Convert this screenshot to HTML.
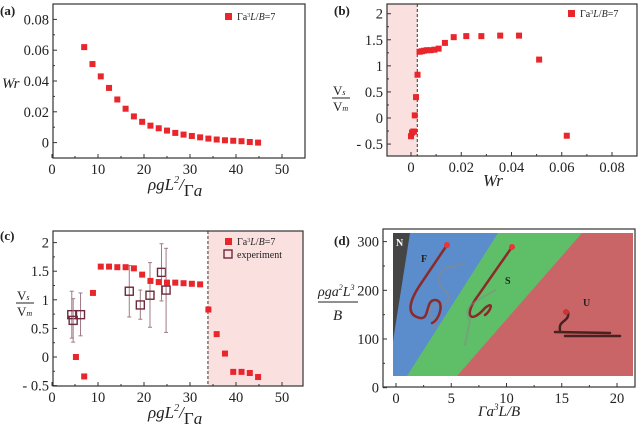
<!DOCTYPE html>
<html><head><meta charset="utf-8"><style>
html,body{margin:0;padding:0;background:#fff}
svg{display:block;font-family:"Liberation Serif",serif}
</style></head><body>
<svg id="fig" width="640" height="427" viewBox="0 0 640 427"></svg>
<script>
// ---- Data ----
const aX=[7,8.8,10.6,12.4,14.2,16,17.8,19.6,21.4,23.2,25,26.8,28.6,30.4,32.2,34,35.8,37.6,39.4,41.2,43,44.8];
const aWr=[.062,.051,.043,.0355,.028,.022,.017,.0135,.011,.0093,.0078,.0063,.0052,.0043,.0034,.0026,.002,.0015,.0012,.0009,.0004,0];
const bWr=[0,.0004,.0009,.0012,.0015,.002,.0026,.0034,.0043,.0052,.0063,.0078,.0093,.011,.0135,.017,.022,.028,.0355,.043,.051,.062];
const bV=[-0.35,-0.28,-0.26,-0.26,0.05,0.4,0.83,1.27,1.28,1.29,1.3,1.3,1.31,1.33,1.44,1.55,1.57,1.57,1.58,1.58,1.12,-0.34];
const cX=[5.2,7,8.9,10.6,12.4,14.2,16,17.8,19.6,21.4,23.2,25,26.8,28.6,30.4,32.2,34,35.8,37.6,39.4,41.2,43,44.8];
const cV=[0,-0.34,1.12,1.58,1.58,1.57,1.57,1.55,1.44,1.33,1.31,1.3,1.3,1.29,1.28,1.27,0.83,0.4,0.06,-0.26,-0.26,-0.28,-0.35];
const eX=[4.3,4.6,6.2,16.8,19.2,21.3,23.8,24.8];
const eV=[0.74,0.64,0.74,1.15,0.91,1.08,1.48,1.17];
const eLo=[0.33,0.26,0.37,0.7,0.66,0.52,0.98,0.43];
const eHi=[1.15,1.02,1.12,1.6,1.17,1.65,1.98,1.9];
const aXT=[0,10,20,30,40,50], aYT=[0,0.02,0.04,0.06,0.08];
const bXT=[0,0.02,0.04,0.06,0.08], bYT=[-0.5,0,0.5,1,1.5,2];
const cYT=[-0.5,0,0.5,1,1.5,2];
const dXT=[0,5,10,15,20], dYT=[0,100,200,300];

const NS="http://www.w3.org/2000/svg", svg=document.getElementById('fig');
function el(t,at,p){const e=document.createElementNS(NS,t);for(const k in at)e.setAttribute(k,at[k]);(p||svg).appendChild(e);return e;}
function txt(s,x,y,at,p){const e=el('text',Object.assign({x:x,y:y},at||{}),p);e.textContent=s;return e;}
function lin(d0,d1,r0,r1){return v=>r0+(v-d0)/(d1-d0)*(r1-r0);}
function fmt(v){return (Math.round(v*1000)/1000).toString();}

function axes(g,L,T,R,B,X,Y,xt,yt,xm,ym){
  el('rect',{x:L,y:T,width:R-L,height:B-T,fill:'none',stroke:'#333','stroke-width':1.2},g);
  xt.forEach(v=>{const x=X(v);el('line',{x1:x,y1:B,x2:x,y2:B-4,stroke:'#333'},g);
    const t=txt(fmt(v),x,B+16,{'font-size':14.5,'text-anchor':'middle',fill:'#222'},g);});
  xm.forEach(v=>{const x=X(v);el('line',{x1:x,y1:B,x2:x,y2:B-2,stroke:'#333'},g);});
  yt.forEach(v=>{const y=Y(v);el('line',{x1:L,y1:y,x2:L+4,y2:y,stroke:'#333'},g);
    const t=txt(fmt(v).replace('-','- '),L-4,y+5,{'font-size':14.5,'text-anchor':'end',fill:'#222'},g);});
  ym.forEach(v=>{const y=Y(v);el('line',{x1:L,y1:y,x2:L+2,y2:y,stroke:'#333'},g);});
}
function sq(g,x,y,name){const r=el('rect',{x:x-3,y:y-3,width:6,height:6,fill:'#e8262b'},g);}
function legendRed(g,x,y){const r=el('rect',{x:x,y:y-6,width:7,height:7,fill:'#e8262b'},g);
  const t=txt('',x+12,y+1,{'font-size':10,fill:'#222'},g);t.innerHTML='Γa<tspan font-size="6" dy="-3">3</tspan><tspan dy="3" font-style="italic">L</tspan>/<tspan font-style="italic">B</tspan>=7';
  const lg=el('g',{},g);lg.appendChild(r);lg.appendChild(t);}
function xtitle(g,x,y){const t=txt('',x,y,{'font-size':17,'font-style':'italic',fill:'#222'},g);
  t.innerHTML='ρgL<tspan font-size="10" dy="-7">2</tspan><tspan dy="7">/</tspan><tspan font-style="normal" dy="6">Γ</tspan><tspan>a</tspan>';
  }
function vtitle(g,x,y){const t=el('g',{},g);
  const a=txt('',x,y,{'font-size':13,fill:'#222'},t);a.innerHTML='V<tspan font-size="8" font-style="italic">s</tspan>';
  el('line',{x1:x-1,y1:y+3,x2:x+17,y2:y+3,stroke:'#222'},t);
  const b=txt('',x,y+16,{'font-size':13,fill:'#222'},t);b.innerHTML='V<tspan font-size="8" font-style="italic">m</tspan>';}
function panel(name){const g=el('g',{});return g;}

// Panel a
(function(){const g=panel('panel-a');const L=53,R=305,T=4,B=158;
 const X=lin(0,55,52,305),Y=lin(-0.01,0.09,158,4);
 axes(g,L,T,R,B,X,Y,aXT,aYT,[5,15,25,35,45],[0.01,0.03,0.05,0.07]);
 aX.forEach((x,i)=>sq(g,X(x),Y(aWr[i]),'point-a'));
 legendRed(g,225,19);
 txt('(a)',0,15,{'font-size':13,'font-weight':'bold',fill:'#222'},g);
 const w=txt('Wr',2,88,{'font-size':15,'font-style':'italic',fill:'#222'},g);
 xtitle(g,148,190);})();

// Panel b
(function(){const g=panel('panel-b');const L=387,R=637,T=4,B=156;
 const X=lin(0,0.08,411,612),Y=lin(0,2,118,13.7);
 el('rect',{x:L,y:T,width:X(0.0025)-L,height:B-T,fill:'#fbe0e0'},g);
 el('line',{x1:X(0.0025),y1:T,x2:X(0.0025),y2:B,stroke:'#333','stroke-dasharray':'3,2'},g);
 axes(g,L,T,R,B,X,Y,bXT,bYT,[0.01,0.03,0.05,0.07],[-0.25,0.25,0.75,1.25,1.75]);
 bWr.forEach((x,i)=>sq(g,X(x),Y(bV[i]),'point-b'));
 legendRed(g,568,16);
 txt('(b)',334,15,{'font-size':13,'font-weight':'bold',fill:'#222'},g);
 vtitle(g,333,95);
 const w=txt('Wr',483,186,{'font-size':17,'font-style':'italic',fill:'#222'},g);})();

// Panel c
(function(){const g=panel('panel-c');const L=53,R=303,T=231,B=386;
 const X=lin(0,55,52,305),Y=lin(0,0.5,357,328.4);
 el('rect',{x:X(33.9),y:T,width:R-X(33.9),height:B-T,fill:'#fbe0e0'},g);
 el('line',{x1:X(33.9),y1:T,x2:X(33.9),y2:B,stroke:'#333','stroke-dasharray':'3,2'},g);
 axes(g,L,T,R,B,X,Y,aXT,cYT,[5,15,25,35,45],[-0.25,0.25,0.75,1.25,1.75]);
 eX.forEach((x,i)=>{const cx=X(x);const eg=el('g',{},g);
   el('line',{x1:cx,y1:Y(eLo[i]),x2:cx,y2:Y(eHi[i]),stroke:'#a07a85','stroke-width':1},eg);
   el('line',{x1:cx-2,y1:Y(eLo[i]),x2:cx+2,y2:Y(eLo[i]),stroke:'#a07a85'},eg);
   el('line',{x1:cx-2,y1:Y(eHi[i]),x2:cx+2,y2:Y(eHi[i]),stroke:'#a07a85'},eg);
   el('rect',{x:cx-4,y:Y(eV[i])-4,width:8,height:8,fill:'none',stroke:'#6e2a3c','stroke-width':1.4},eg);});
 cX.forEach((x,i)=>sq(g,X(x),Y(cV[i]),'point-c'));
 legendRed(g,225,244);
 const lg=el('g',{},g);
 el('rect',{x:224,y:250,width:8,height:8,fill:'none',stroke:'#6e2a3c','stroke-width':1.4},lg);
 txt('experiment',237,258,{'font-size':10,fill:'#222'},lg);
 txt('(c)',0,240,{'font-size':13,'font-weight':'bold',fill:'#222'},g);
 vtitle(g,17,300);
 xtitle(g,148,418);})();

// Panel d
(function(){const g=panel('panel-d');const L=383,R=635,T=229,B=387;
 const X=lin(0,20,396,617),Y=lin(0,300,387.7,241.6);
 const pg=(pts,f,n)=>{const p=el('polygon',{points:pts,fill:f},g);};
 pg('393,233 633,233 633,376 393,376','#c96566','region-u');
 pg('393,233 582,233 457,376 393,376','#5fbf69','region-s');
 pg('393,233 498,233 407,376 393,376','#5b8ccb','region-f');
 pg('393,233 410,233 393,341','#454545','region-n');
 axes(g,L,T,R,B,X,Y,dXT,dYT,[2.5,7.5,12.5,17.5],[50,150,250]);
 const path=(d,c,w,o,n)=>{const p=el('path',{d:d,fill:'none',stroke:c,'stroke-width':w,opacity:o,'stroke-linecap':'round'},g);};
 path('M464,262 C455,270 445,262 440,275 C435,290 452,290 448,300 C444,310 430,300 430,312 C430,320 440,318 433,328','#888',2,0.6,'filament-shadow');
 path('M447,245 L420,285 C410,300 405,315 420,318 C430,320 425,300 435,300 C445,300 440,320 432,323','#8b2a2a',2.5,1,'filament-f');
 path('M512,247 L475,300 C465,315 470,325 485,308 C495,300 490,312 485,315','#8b2a2a',2.5,1,'filament-s');
 path('M495,290 C480,300 460,305 470,320 L465,345','#888',2,0.5,'filament-s-shadow');
 path('M565,336 L620,336 M555,332 L610,333 M560,330 C558,320 570,322 568,312','#3a1a1a',2.5,0.9,'filament-u');
 el('circle',{cx:447,cy:245,r:3,fill:'#e33'},g);el('circle',{cx:512,cy:247,r:3,fill:'#e33'},g);el('circle',{cx:566,cy:312,r:3,fill:'#c33'},g);
 [['N',396,246,'#fff'],['F',421,262,'#222'],['S',505,284,'#222'],['U',583,306,'#222']].forEach(a=>{const t=txt(a[0],a[1],a[2],{'font-size':10,'font-weight':'bold',fill:a[3]},g);});
 txt('(d)',334,245,{'font-size':13,'font-weight':'bold',fill:'#222'},g);
 const yt=el('g',{},g);
 const a=txt('',318,296,{'font-size':14,'font-style':'italic',fill:'#222'},yt);a.innerHTML='ρga<tspan font-size="8" dy="-6">2</tspan><tspan dy="6">L</tspan><tspan font-size="8" dy="-6">3</tspan>';
 el('line',{x1:318,y1:302,x2:358,y2:302,stroke:'#222'},yt);
 txt('B',333,320,{'font-size':15,'font-style':'italic',fill:'#222'},yt);
 const xt=txt('',478,416,{'font-size':15,'font-style':'italic',fill:'#222'},g);xt.innerHTML='Γa<tspan font-size="9" dy="-6">3</tspan><tspan dy="6">L/B</tspan>';
 })();
</script>
</body></html>
